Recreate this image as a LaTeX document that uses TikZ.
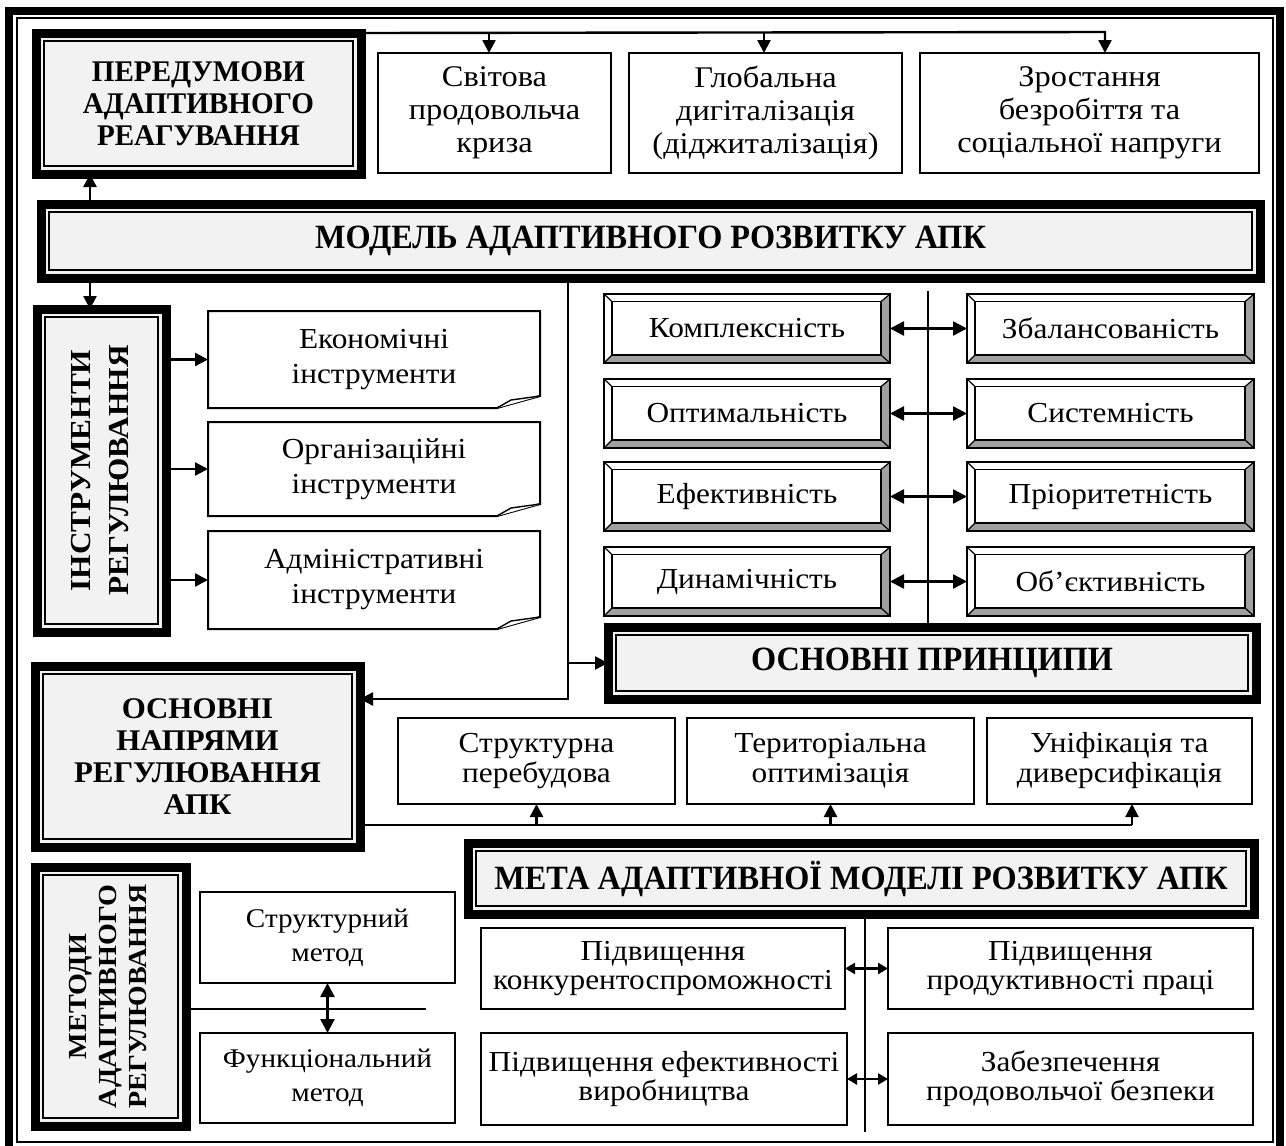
\documentclass[tikz,border=0pt]{standalone}
\usepackage{fontspec}
\setmainfont{Liberation Serif}[FakeStretch=1.08]
\newfontfamily\hdfont{Liberation Serif}[FakeStretch=0.95]
\newfontfamily\prefont{Liberation Serif}[FakeStretch=0.97]
\newfontfamily\dirfont{Liberation Serif}[FakeStretch=1.03]
\usetikzlibrary{arrows.meta,calc}
\definecolor{hdrfill}{HTML}{F2F2F2}
\definecolor{bevgray}{HTML}{A0A0A0}
\newcommand\fTop{\fontsize{15}{16.5}\selectfont}
\newcommand\fReg{\fontsize{14.5}{16.5}\selectfont}
\newcommand\fDoc{\fontsize{14.5}{17.5}\selectfont}
\newcommand\fDir{\fontsize{14.5}{15}\selectfont}
\newcommand\fMet{\fontsize{13.5}{17}\selectfont}
\newcommand\fGoal{\fontsize{14.5}{14.5}\selectfont}
\newcommand\fPre{\prefont\bfseries\fontsize{15}{16}\selectfont}
\newcommand\fBig{\hdfont\bfseries\fontsize{17}{19}\selectfont}
\newcommand\fDirs{\dirfont\bfseries\fontsize{15}{16}\selectfont}
\newcommand\fInstr{\bfseries\fontsize{14.5}{19}\selectfont}
\newcommand\fMeth{\bfseries\fontsize{13}{15}\selectfont}
\newcommand\bx[7]{\node[#6, minimum width={(#4-#2)*0.5pt}, minimum height={(#5-#3)*0.5pt}] (#1) at ({(#2+#4)/2},{(#3+#5)/2}) {#7};}
\newcommand\hdrinner[1]{\draw[line width=0.8pt] ([shift={(4pt,-4pt)}]#1.north west) rectangle ([shift={(-4pt,4pt)}]#1.south east);}
\newcommand\bevel[1]{%
  \coordinate (#1-a) at ([shift={(4pt,-3.8pt)}]#1.north west);
  \coordinate (#1-b) at ([shift={(-4.5pt,-3.8pt)}]#1.north east);
  \coordinate (#1-c) at ([shift={(-4.5pt,4pt)}]#1.south east);
  \coordinate (#1-d) at ([shift={(4pt,4pt)}]#1.south west);
  \fill[bevgray] (#1.north east) -- (#1.south east) -- (#1-c) -- (#1-b) -- cycle;
  \fill[bevgray] (#1.south west) -- (#1.south east) -- (#1-c) -- (#1-d) -- cycle;
  \draw[line width=0.7pt] (#1-a) rectangle (#1-c);
  \draw[line width=0.6pt] (#1.north west) -- (#1-a) (#1.north east) -- (#1-b) (#1.south east) -- (#1-c) (#1.south west) -- (#1-d);
  \draw[line width=1.4pt] (#1.north west) rectangle (#1.south east);}
\newcommand\docb[1]{%
  \draw[line width=1pt] (#1.north west) -- (#1.north east) -- ([yshift=6pt]#1.south east) -- ([xshift=-21.5pt]#1.south east) -- (#1.south west) -- cycle;
  \draw[line width=0.7pt, fill=white] ([xshift=-21.5pt]#1.south east) -- ([shift={(-14.5pt,4pt)}]#1.south east) -- ([yshift=6pt]#1.south east);}
\tikzset{
  box/.style={draw, line width=1pt, fill=white, inner sep=0pt, outer sep=0pt, align=center},
  hdr/.style={draw, line width=4.5pt, fill=hdrfill, inner sep=0pt, outer sep=0pt, align=center},
  plain/.style={inner sep=0pt, outer sep=0pt, align=center, font=\fDoc},
  bev/.style={inner sep=0pt, outer sep=0pt, align=center, font=\fReg},
  conn/.style={line width=1.2pt},
  arr/.style={line width=1.2pt, -{Triangle[length=6.5pt,width=6.5pt]}},
  darr/.style={line width=1.2pt, {Triangle[length=7pt,width=7pt]}-{Triangle[length=7pt,width=7pt]}},
  sdarr/.style={line width=1.2pt, {Triangle[length=5pt,width=5.5pt]}-{Triangle[length=5pt,width=5.5pt]}}
}
\begin{document}
\begin{tikzpicture}[x=0.5pt,y=-0.5pt]
\useasboundingbox (0,0) rectangle (1286,1146);
\clip (0,0) rectangle (1286,1146);
\fill[white] (0,0) rectangle (1286,1146);
% frame
\draw[line width=4pt] (9,11) rectangle (1280,1175);
\draw[line width=1pt] (17,18) rectangle (1273,1142);

% coordinates for connector bends
\coordinate (t1) at (489,32);
\coordinate (t2) at (764,32);
\coordinate (t3) at (1105,32);
\coordinate (ax) at (90,0);
\coordinate (j1) at (568,699);
\coordinate (pv) at (928,291);
\coordinate (h3) at (1132,825);
\coordinate (mh) at (426,1009);
\coordinate (gv) at (865,1132);

% header boxes
\bx{pre}{36}{33}{361}{174}{hdr,font=\fPre}{ПЕРЕДУМОВИ\\АДАПТИВНОГО\\РЕАГУВАННЯ}
\hdrinner{pre}
\bx{model}{41}{204}{1260}{278}{hdr,font=\fBig}{МОДЕЛЬ АДАПТИВНОГО РОЗВИТКУ АПК}
\hdrinner{model}
\bx{instr}{37}{309}{166}{632}{hdr,font=\fInstr}{\rotatebox{90}{\begin{tabular}{@{}c@{}}ІНСТРУМЕНТИ\\РЕГУЛЮВАННЯ\end{tabular}}}
\hdrinner{instr}
\bx{princ}{608}{627}{1256}{699}{hdr,font=\fBig}{ОСНОВНІ ПРИНЦИПИ}
\hdrinner{princ}
\bx{dirs}{35}{666}{360}{847}{hdr,font=\fDirs}{ОСНОВНІ\\НАПРЯМИ\\РЕГУЛЮВАННЯ\\АПК}
\hdrinner{dirs}
\bx{goal}{468}{843}{1254}{914}{hdr,font=\fBig}{МЕТА АДАПТИВНОЇ МОДЕЛІ РОЗВИТКУ АПК}
\hdrinner{goal}
\bx{meth}{35}{867}{186}{1126}{hdr,font=\fMeth}{\rotatebox{90}{\begin{tabular}{@{}c@{}}МЕТОДИ\\АДАПТИВНОГО\\РЕГУЛЮВАННЯ\end{tabular}}}
\hdrinner{meth}

% top row
\bx{b1}{378}{53}{611}{173}{box,font=\fTop}{Світова\\продовольча\\криза}
\bx{b2}{629}{53}{902}{173}{box,font=\fTop}{Глобальна\\дигіталізація\\(діджиталізація)}
\bx{b3}{920}{53}{1259}{173}{box,font=\fTop}{Зростання\\безробіття та\\соціальної напруги}

% instruments
\bx{e1}{208}{311}{540}{408}{plain}{Економічні\\інструменти}
\docb{e1}
\bx{e2}{208}{422}{540}{516}{plain}{Організаційні\\інструменти}
\docb{e2}
\bx{e3}{208}{531}{540}{629}{plain}{Адміністративні\\інструменти}
\docb{e3}

% principles
\bx{k1}{604}{294}{890}{363}{bev}{Комплексність}
\bevel{k1}
\bx{k2}{967}{294}{1254}{363}{bev}{Збалансованість}
\bevel{k2}
\bx{k3}{604}{379}{890}{448}{bev}{Оптимальність}
\bevel{k3}
\bx{k4}{967}{379}{1254}{448}{bev}{Системність}
\bevel{k4}
\bx{k5}{604}{462}{890}{531}{bev}{Ефективність}
\bevel{k5}
\bx{k6}{967}{462}{1254}{531}{bev}{Пріоритетність}
\bevel{k6}
\bx{k7}{604}{547}{890}{616}{bev}{Динамічність}
\bevel{k7}
\bx{k8}{967}{547}{1254}{616}{bev}{Об’єктивність}
\bevel{k8}

% directions
\bx{s1}{398}{718}{675}{804}{box,font=\fDir}{Структурна\\перебудова}
\bx{s2}{687}{718}{974}{804}{box,font=\fDir}{Територіальна\\оптимізація}
\bx{s3}{987}{718}{1252}{804}{box,font=\fDir}{Уніфікація та\\диверсифікація}

% methods
\bx{m1}{200}{892}{455}{983}{box,font=\fMet}{Структурний\\метод}
\bx{m2}{200}{1033}{455}{1123}{box,font=\fMet}{Функціональний\\метод}

% goals
\bx{g1}{481}{928}{845}{1009}{box,font=\fGoal}{Підвищення\\конкурентоспроможності}
\bx{g2}{888}{928}{1253}{1009}{box,font=\fGoal}{Підвищення\\продуктивності праці}
\bx{g3}{481}{1033}{847}{1125}{box,font=\fGoal}{Підвищення ефективності\\виробництва}
\bx{g4}{888}{1033}{1253}{1125}{box,font=\fGoal}{Забезпечення\\продовольчої безпеки}

% connectors
\draw[arr] (pre.north east) -- (t3) -- (t3 |- b3.north);
\draw[arr] (t1) -- (t1 |- b1.north);
\draw[arr] (t2) -- (t2 |- b2.north);
\draw[arr] (ax |- model.north) -- (ax |- pre.south);
\draw[arr] (ax |- model.south) -- (ax |- instr.north);
\draw[arr] (instr.east |- e1.west) -- (e1.west);
\draw[arr] (instr.east |- e2.west) -- (e2.west);
\draw[arr] (instr.east |- e3.west) -- (e3.west);
\draw[arr] (j1 |- model.south) -- (j1) -- (j1 -| dirs.east);
\draw[arr] (j1 |- princ.west) -- (princ.west);
\draw[line width=0.8pt] (pv) -- (pv |- princ.north);
\draw[darr] (k1.east) -- (k2.west);
\draw[darr] (k3.east) -- (k4.west);
\draw[darr] (k5.east) -- (k6.west);
\draw[darr] (k7.east) -- (k8.west);
\draw[conn] (dirs.east |- h3) -- (h3);
\draw[arr] (s1.south |- h3) -- (s1.south);
\draw[arr] (s2.south |- h3) -- (s2.south);
\draw[arr] (h3) -- (h3 |- s3.south);
\draw[conn] (meth.east |- mh) -- (mh);
\draw[darr] (m1.south) -- (m2.north);
\draw[line width=1pt] (gv |- goal.south) -- (gv);
\draw[sdarr] (g1.east) -- (g1.east -| g2.west);
\draw[sdarr] (g3.east) -- (g3.east -| g4.west);
\end{tikzpicture}
\end{document}
